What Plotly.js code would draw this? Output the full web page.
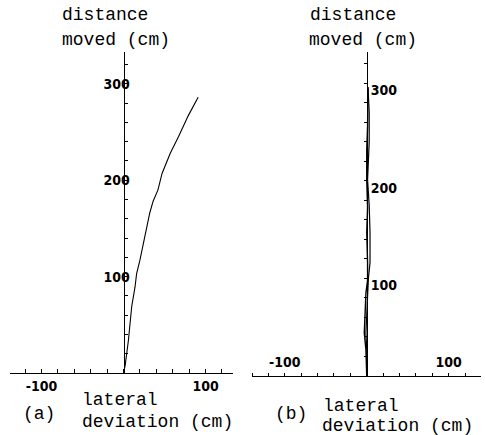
<!DOCTYPE html>
<html>
<head>
<meta charset="utf-8">
<script src="https://cdn.plot.ly/plotly-3.0.1.min.js"></script>
<style>html,body{margin:0;padding:0;background:#fff;}#chart{width:485px;height:435px;}</style>
</head>
<body>
<div id="chart"></div>
<script>
// Panel (a): lateral deviation vs distance moved (cm)
const lateralA  = [0, 2, 6, 10, 14, 16, 20, 24, 28, 32, 36, 42, 47, 57, 67, 79, 91];
const distanceA = [0, 8, 34, 69, 89, 103, 117, 134, 152, 166, 178, 190, 207, 228, 245, 267, 286];

// Panel (b): two nearly straight overlapping tracks
const lateralB1  = [0, -1, -3, -2, -1, 1, 1, 0, 1, 0, 0, 1, 1.5];
const distanceB1 = [0, 27, 44, 68, 85, 98, 116, 147, 173, 201, 232, 255, 296];
const lateralB2  = [0, 0, -1, 0, 1, 2, 4, 4, 3, 1, 3, 3, 1.5];
const distanceB2 = [0, 27, 44, 68, 85, 100, 116, 147, 175, 201, 240, 270, 296];

// Tick labels
const xTickVals = [-100, 100];
const xTickText = ['-100', '100'];
const yTickVals = [100, 200, 300];
const yTickText = ['100', '200', '300'];

const W = 485, H = 435;
const px = v => v / W;
const py = v => 1 - v / H;

const tickFont = {family: 'Liberation Sans Narrow, DejaVu Sans Condensed, sans-serif', size: 14, color: '#000', weight: 'bold'};
const txtFont = {family: 'Liberation Mono, Courier New, monospace', size: 18, color: '#000'};

const traces = [
  {x: lateralA, y: distanceA, xaxis: 'x', yaxis: 'y', mode: 'lines', line: {color: '#000', width: 1.1}, hoverinfo: 'skip'},
  {x: lateralB1, y: distanceB1, xaxis: 'x2', yaxis: 'y2', mode: 'lines', line: {color: '#000', width: 1.4}, hoverinfo: 'skip'},
  {x: lateralB2, y: distanceB2, xaxis: 'x2', yaxis: 'y2', mode: 'lines', line: {color: '#000', width: 1.2}, hoverinfo: 'skip'}
];

const baseAxis = {
  showgrid: false, zeroline: false, showline: true, linecolor: '#000', linewidth: 1.3,
  tickmode: 'array', tickfont: tickFont, tickcolor: '#000', ticklen: 4, tickwidth: 1,
  fixedrange: true
};

const layout = {
  width: W, height: H,
  margin: {l: 0, r: 0, t: 0, b: 0},
  paper_bgcolor: '#fff', plot_bgcolor: 'rgba(0,0,0,0)',
  showlegend: false,
  xaxis: Object.assign({}, baseAxis, {
    domain: [px(10), px(233)], range: [-138.4, 133.5], anchor: 'y', side: 'bottom',
    tickvals: xTickVals, ticktext: xTickText, ticks: 'inside',
    minor: {dtick: 20, tick0: 0, ticks: 'inside', ticklen: 4, tickcolor: '#000'}
  }),
  yaxis: Object.assign({}, baseAxis, {
    domain: [1 - 373 / H, 1 - 52 / H], range: [0, 333], anchor: 'free', position: px(123.5), side: 'left',
    tickvals: yTickVals, ticktext: yTickText, ticks: 'inside', ticklen: 3, ticklabelstandoff: -9,
    minor: {dtick: 20, tick0: 0, ticks: 'inside', ticklen: 3, tickcolor: '#000'}
  }),
  xaxis2: Object.assign({}, baseAxis, {
    domain: [px(252), px(481)], range: [-140, 139.4], anchor: 'free', position: 1 - 376 / H, side: 'top',
    tickvals: xTickVals, ticktext: xTickText, ticks: 'outside', ticklen: 3,
    minor: {dtick: 20, tick0: 0, ticks: 'outside', ticklen: 3, tickcolor: '#000'}
  }),
  yaxis2: Object.assign({}, baseAxis, {
    domain: [1 - 376 / H, 1 - 52 / H], range: [0, 332], anchor: 'free', position: px(366.7), side: 'right',
    tickvals: yTickVals, ticktext: yTickText, ticks: 'inside', ticklen: 3, ticklabelshift: 7,
    minor: {dtick: 20, tick0: 0, ticks: 'inside', ticklen: 3, tickcolor: '#000'}
  }),
  annotations: [
    // panel (a)
    {text: 'distance', x: px(60), y: py(15), xanchor: 'left'},
    {text: 'moved (cm)', x: px(60), y: py(40), xanchor: 'left'},
    {text: 'lateral', x: px(80), y: py(400), xanchor: 'left'},
    {text: 'deviation (cm)', x: px(80), y: py(422), xanchor: 'left'},
    {text: '(a)', x: px(21), y: py(414), xanchor: 'left'},
    // panel (b)
    {text: 'distance', x: px(308), y: py(15), xanchor: 'left'},
    {text: 'moved (cm)', x: px(307), y: py(40), xanchor: 'left'},
    {text: 'lateral', x: px(321), y: py(406), xanchor: 'left'},
    {text: 'deviation (cm)', x: px(320), y: py(426), xanchor: 'left'},
    {text: '(b)', x: px(273), y: py(414), xanchor: 'left'}
  ].map(a => Object.assign({xref: 'paper', yref: 'paper', yanchor: 'middle', showarrow: false, font: txtFont}, a))
};

Plotly.newPlot('chart', traces, layout, {staticPlot: true, displayModeBar: false});
</script>
</body>
</html>
